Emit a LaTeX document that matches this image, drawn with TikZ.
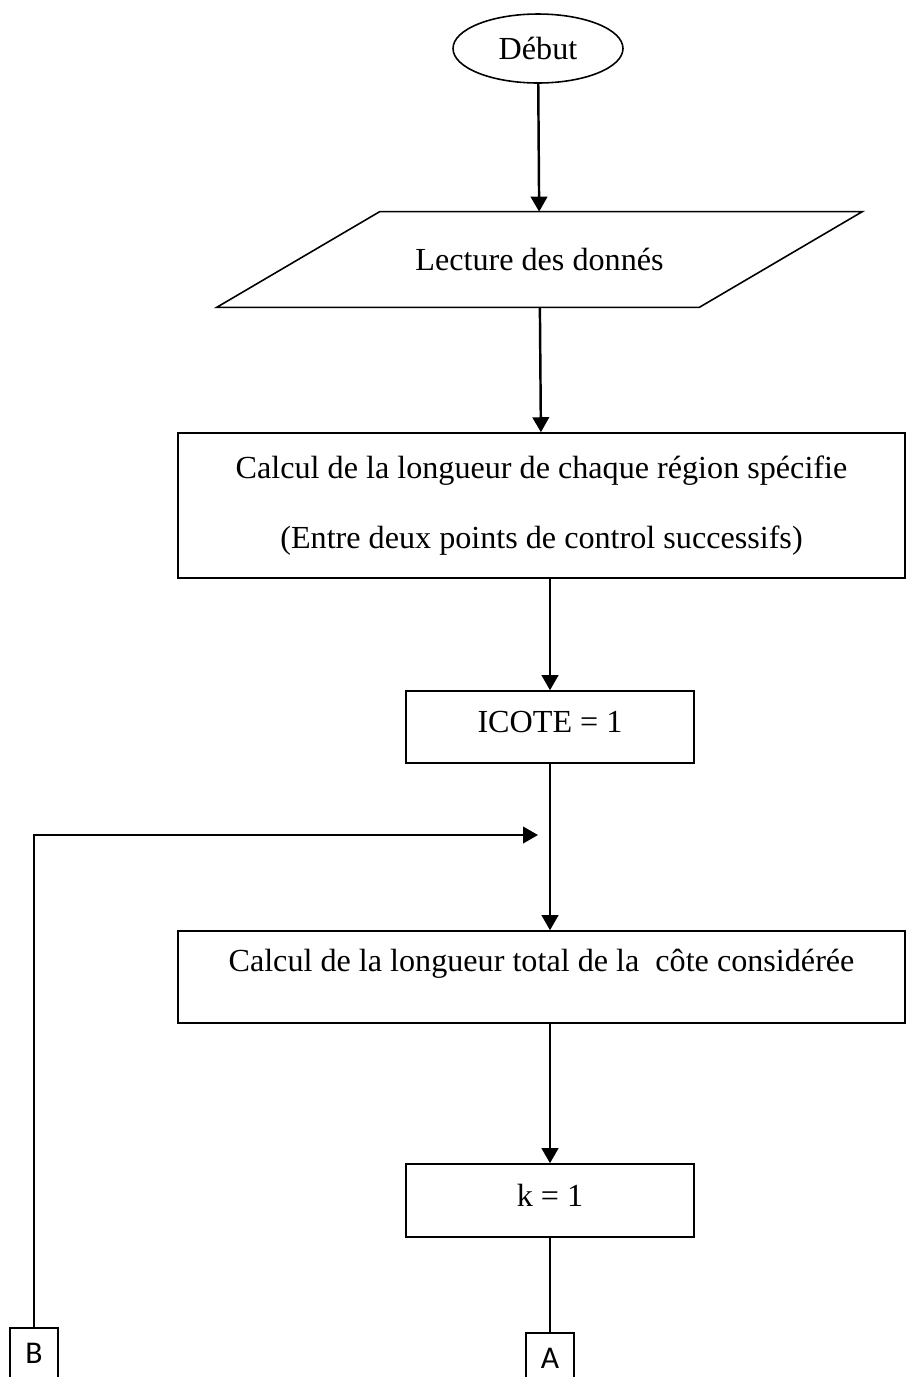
\documentclass[tikz,border=0pt]{standalone}
\usepackage{fontspec}
\setmainfont{Liberation Serif}
\newfontfamily\connfont{Carlito}
\usetikzlibrary{shapes.geometric,arrows.meta}

\begin{document}
\begin{tikzpicture}[x=0.02cm, y=-0.02cm,
    every node/.style={font=\fontsize{18.3}{22}\selectfont},
    procbox/.style={draw, line width=0.9pt, inner sep=0pt, minimum width=5.76cm},
    connbox/.style={draw, line width=0.9pt, inner sep=0pt, minimum width=0.97cm, minimum height=1cm,
      font=\connfont\fontsize{18}{22}\selectfont},
    flow/.style={line width=1.4pt, -{Triangle[length=3mm,width=3.3mm]}}]
  \useasboundingbox (0,0) rectangle (907,1377);

  \node[draw, ellipse, line width=0.9pt, inner sep=0pt, minimum width=3.4cm, minimum height=1.38cm] (debut) at (538,48.5) {Début};
  % parallelogram: text box, outline drawn below
  \node[inner sep=0pt, minimum width=9.64cm, minimum height=1.9cm] (lecture) at (539.5,259.5) {Lecture des donnés};
  \draw[line width=0.9pt] ([xshift=1.63cm]lecture.north west) -- ([xshift=1.63cm]lecture.north east)
    -- ([xshift=-1.63cm]lecture.south east) -- ([xshift=-1.63cm]lecture.south west) -- cycle;
  \node[procbox, minimum width=14.54cm, minimum height=2.9cm, align=center, font=\fontsize{18.3}{39.5}\selectfont] (longueur) at (541.5,505.5)
    {Calcul de la longueur de chaque région spécifie\\(Entre deux points de control successifs)};
  \node[procbox, text height=0.82cm, text depth=0.62cm] (icote) at (550,727) {ICOTE = 1};
  \node[procbox, minimum width=14.54cm, text height=0.8cm, text depth=1.04cm] (total) at (541.5,977) {Calcul de la longueur total de la~~côte considérée};
  \node[procbox, text height=0.84cm, text depth=0.62cm] (kinit) at (550,1200.5) {k = 1};

  \node[connbox] (A) at (550,1358) {A};
  \node[connbox] (B) at (34,1353) {B};
  \coordinate (retour) at (538,835);

  \draw[flow] (debut) -- (lecture);
  \draw[flow] (lecture) -- (longueur);
  \draw[flow] (longueur.south -| icote) -- (icote);
  \draw[flow] (icote) -- (total.north -| icote);
  \draw[flow] (total.south -| icote) -- (kinit);
  \draw[line width=1.4pt] (kinit) -- (A);
  \draw[flow] (B) |- (retour);
\end{tikzpicture}
\end{document}
